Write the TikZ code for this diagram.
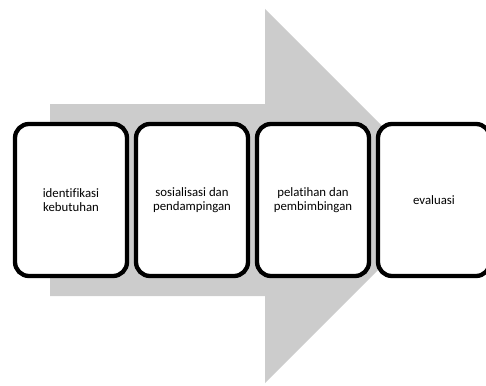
\documentclass[tikz,border=0pt]{standalone}
\usepackage{fontspec}
\setmainfont[Ligatures=NoCommon]{Carlito}
\definecolor{arrowgray}{HTML}{CCCCCC}
\begin{document}
\begin{tikzpicture}[x=1pt,y=-1pt,
  stepbox/.style={draw=black,line width=4.3pt,fill=white,rounded corners=14pt,
    minimum width=112pt,minimum height=152pt,align=center,
    font=\fontsize{12.8pt}{14.5pt}\selectfont,inner sep=0pt}]
\useasboundingbox (0,0) rectangle (486,385);
\clip (0,0) rectangle (486,385);
\fill[arrowgray] (50,104) -- (265,104) -- (265,9) -- (452,196) -- (265,383) -- (265,296) -- (50,296) -- cycle;
\node[stepbox] (a) at (71,200) {identifikasi\\kebutuhan};
\node[stepbox] (b) at (192,200) {sosialisasi dan\\pendampingan};
\node[stepbox] (c) at (313,200) {pelatihan dan\\pembimbingan};
\node[stepbox] (d) at (434,200) {evaluasi};
\end{tikzpicture}
\end{document}
